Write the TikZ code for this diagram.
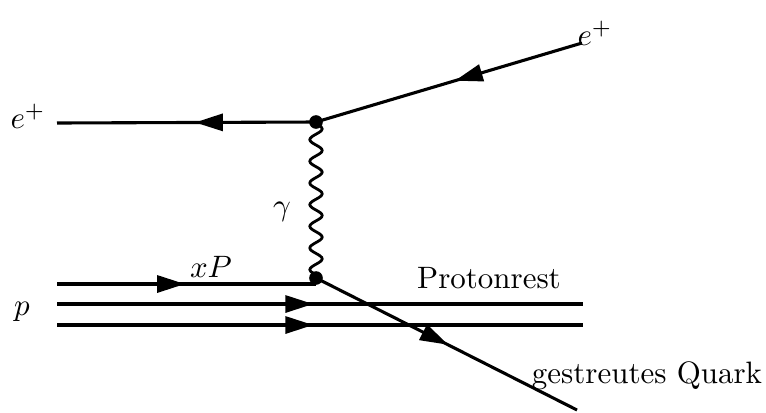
\documentclass[tikz,border=0pt]{standalone}
\usetikzlibrary{arrows.meta,decorations.markings,decorations.pathmorphing}
\begin{document}
\begin{tikzpicture}[x=0.323pt,y=-0.323pt,line width=1pt,
vertex/.style={circle,fill,inner sep=0pt,minimum size=4.4pt},
fermion/.style={postaction={decorate},decoration={markings,mark=at position #1 with {\arrow{Triangle[length=9pt,width=5.5pt]}}}},
photon/.style={decorate,decoration={snake,segment length=7pt,amplitude=2pt}}
]
\useasboundingbox (0,0) rectangle (766,412);
% vertices
\node[vertex] (top) at (316,122) {};
\node[vertex] (bot) at (316,278) {};
% free ends
\coordinate (ein) at (582,43);
\coordinate (eout) at (57,123);
\coordinate (xp) at (57,284);
\coordinate (r1a) at (57,304); \coordinate (r1b) at (583,304);
\coordinate (r2a) at (57,325); \coordinate (r2b) at (583,325);
\coordinate (q) at (577,410);
% labels
\node (eleft) at (28,116) {$e^+$};
\node (eright) at (595,33) {$e^+$};
\node (gam) at (282,212) {$\gamma$};
\node (xplab) at (211,267) {$xP$};
\node (plab) at (22,312) {$p$};
\node (rest) at (489,278) {Protonrest};
\node (quark) at (647,376) {gestreutes Quark};
% lines
\draw[fermion=0.478] (ein) -- (top.center);
\draw[fermion=0.467] (top.center) -- (eout);
\draw[photon,line width=0.9pt] (top.center) -- (bot.center);
\draw[fermion=0.494] (xp) -- (bot |- xp);
\draw[fermion=0.487] (r1a) -- (r1b);
\draw[fermion=0.487] (r2a) -- (r2b);
\draw[fermion=0.506] (bot.center) -- (q);
\end{tikzpicture}
\end{document}
